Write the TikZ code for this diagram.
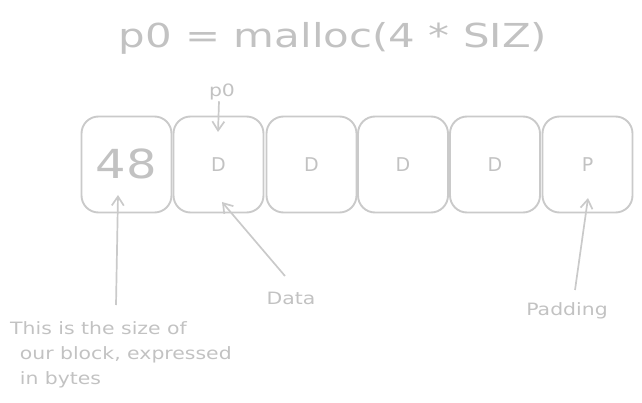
\documentclass[tikz,border=0pt]{standalone}
\usepackage{fontspec}
\setmainfont{DejaVu Sans}
\usetikzlibrary{arrows.meta}
\definecolor{ink}{HTML}{CACACA}
\definecolor{tink}{HTML}{C2C2C2}
\tikzset{
  cell/.style={draw=ink, line width=1.9pt, rounded corners=17pt, minimum width=90pt, minimum height=96pt, inner sep=0pt, text=tink, font=\fontsize{19}{19}\selectfont},
  lbl/.style={text=tink, inner sep=0pt, font=\fontsize{17}{25}\selectfont, xscale=1.2, transform shape},
  arr/.style={draw=ink, line width=1.7pt, -{Straight Barb[length=9pt, width=12pt, line width=1.7pt]}},
}
\begin{document}
\begin{tikzpicture}[x=1pt, y=-1pt]
\useasboundingbox (0,0) rectangle (642,403);
\node[text=tink, inner sep=0pt, font=\fontsize{33}{33}\selectfont, xscale=1.27, transform shape] (title) at (333,38) {p0 = malloc(4 * SIZ)};
\node[cell, font=\fontsize{40}{40}\selectfont] (c1) at (126.5,164.5) {\raisebox{1.5pt}{\scalebox{1.2}[1]{48}}};
\node[cell] (c2) at (218.5,164.5) {D};
\node[cell] (c3) at (311.5,164.5) {D};
\node[cell] (c4) at (403,164.5) {D};
\node[cell] (c5) at (495,164.5) {D};
\node[cell] (c6) at (587.5,164.5) {P};
\node[lbl, font=\fontsize{17}{17}\selectfont] (p0) at (222,92) {p0};
\coordinate (p0tip) at (218,132);
\draw[arr] (p0.south) ++(-3,1) -- (p0tip);
\node[lbl, align=left, anchor=north west] (size) at (10,321) {This is the size of\\\hspace{8pt}our block, expressed\\\hspace{8pt}in bytes};
\node[lbl] (data) at (291,298) {Data};
\node[lbl] (pad) at (567,311) {Padding};
\coordinate (s1) at (116,305);
\coordinate (s2) at (118,195);
\draw[arr] (s1) -- (s2);
\coordinate (d1) at (285,276);
\coordinate (d2) at (222,202);
\draw[arr] (d1) -- (d2);
\coordinate (q1) at (575,290);
\coordinate (q2) at (588,198);
\draw[arr] (q1) -- (q2);
\end{tikzpicture}
\end{document}
